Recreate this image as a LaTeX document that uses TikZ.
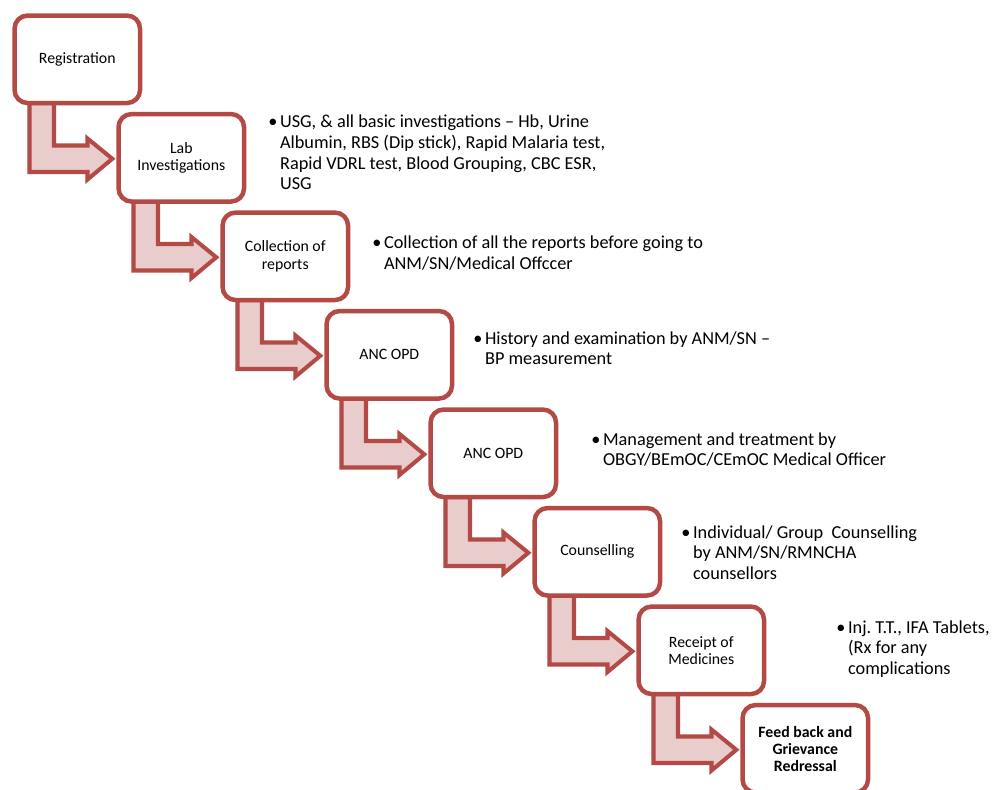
\documentclass[tikz,border=0pt]{standalone}
\usepackage{fontspec}
\setmainfont{Carlito}
\usepackage{tikz}
\usetikzlibrary{calc,backgrounds}
\frenchspacing
\definecolor{BoxRed}{RGB}{180,74,70}
\definecolor{ArrowPink}{RGB}{233,204,204}
\tikzset{
  stepbox/.style={draw=BoxRed, line width=2.55pt, rounded corners=7.4pt, fill=white,
    minimum width=2.51cm, minimum height=1.75cm, align=center, inner sep=2pt,
    font=\fontsize{9}{9.8}\selectfont},
  bentarrow/.style={draw=BoxRed, fill=ArrowPink, line width=2.3pt, line join=miter},
  note/.style={anchor=base west, inner sep=0pt, font=\fontsize{10.4}{11.7}\selectfont}
}

\begin{document}
\begin{tikzpicture}[x=0.02cm, y=-0.02cm]
    \useasboundingbox (0,0) rectangle (1000,790);
    \clip (0,0) rectangle (1000,790);
%   steps
    \node[stepbox] (reg) at (77.3,59.3) {Registration};
    \node[stepbox] (lab) at (181.3,157.8) {Lab\\Investigations};
    \node[stepbox] (coll) at (285.3,256.3) {Collection of\\reports};
    \node[stepbox] (anc) at (389.3,354.8) {ANC OPD};
    \node[stepbox] (ancmo) at (493.3,453.3) {ANC OPD};
    \node[stepbox] (couns) at (597.3,551.8) {Counselling};
    \node[stepbox] (meds) at (701.3,650.3) {Receipt of\\Medicines};
    \node[stepbox] (feed) at (805.3,748.8) {\textbf{Feed back and}\\\textbf{Grievance}\\\textbf{Redressal}};

%   bent arrows between the steps
    \begin{scope}[on background layer]
        \foreach \a/\b in {reg/lab, lab/coll, coll/anc, anc/ancmo, ancmo/couns, couns/meds, meds/feed} {
            \draw[bentarrow] ($(\a)+(-47.8,43.75)$) -- ($(\a)+(-23.3,43.75)$)
                -- ($(\a)+(-23.3,86.2)$) -- ($(\a)+(10.2,86.2)$) -- ($(\a)+(10.2,79.2)$)
                -- ($(\b.west)+(-4,1)$)
                -- ($(\a)+(10.2,120.2)$) -- ($(\a)+(10.2,112.7)$) -- ($(\a)+(-47.8,112.7)$) -- cycle;
        }
    \end{scope}

%   notes
    \node[note] (labnote) at (268,128) {\begin{tabular}[t]{@{}l@{\hspace{1.5pt}}l@{}}
        \textbullet & USG, \& all basic investigations – Hb, Urine\\
        & Albumin, RBS (Dip stick), Rapid Malaria test,\\
        & Rapid VDRL test, Blood Grouping, CBC ESR,\\
        & USG\end{tabular}};
    \node[note] (collnote) at (372,249) {\begin{tabular}[t]{@{}l@{\hspace{1.5pt}}l@{}}
        \textbullet & Collection of all the reports before going to\\
        & ANM/SN/Medical Offccer\end{tabular}};
    \node[note] (ancnote) at (473,344) {\begin{tabular}[t]{@{}l@{\hspace{1.5pt}}l@{}}
        \textbullet & History and examination by ANM/SN –\\
        & BP measurement\end{tabular}};
    \node[note] (ancmonote) at (591,445) {\begin{tabular}[t]{@{}l@{\hspace{1.5pt}}l@{}}
        \textbullet & Management and treatment by\\
        & OBGY/BEmOC/CEmOC Medical Officer\end{tabular}};
    \node[note] (counsnote) at (681,538) {\begin{tabular}[t]{@{}l@{\hspace{1.5pt}}l@{}}
        \textbullet & Individual/ Group\ \ Counselling\\
        & by ANM/SN/RMNCHA\\
        & counsellors\end{tabular}};
    \node[note] (medsnote) at (836,633) {\begin{tabular}[t]{@{}l@{\hspace{1.5pt}}l@{}}
        \textbullet & Inj. T.T., IFA Tablets,\\
        & (Rx for any\\
        & complications\end{tabular}};
\end{tikzpicture}
\end{document}
